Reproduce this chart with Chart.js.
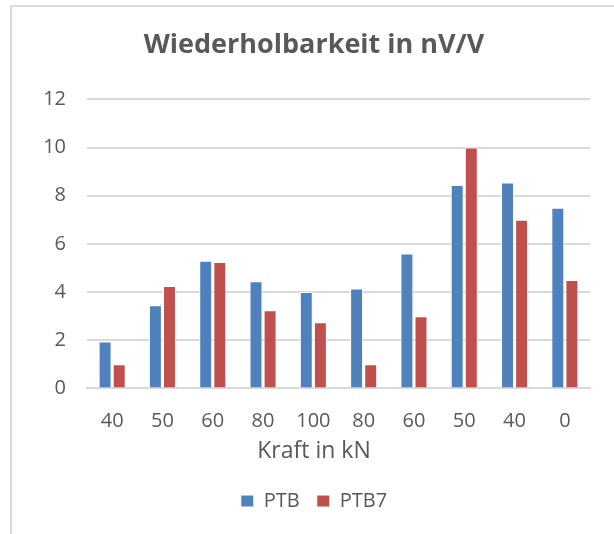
<!DOCTYPE html>
<html>
<head>
<meta charset="utf-8">
<script src="https://cdn.jsdelivr.net/npm/chart.js@4/dist/chart.umd.min.js"></script>
<style>
  html, body { margin: 0; padding: 0; background: #fff; }
  #frame { position: absolute; left: 10px; top: 5px; width: 700px; height: 600px; border: 2px solid #d9d9d9; }
  #wrap { position: absolute; left: 0; top: 0; width: 614px; height: 534px; }
</style>
</head>
<body>
<div id="frame"></div>
<div id="wrap"><canvas id="myChart"></canvas></div>
<script>
const kraft = ["40", "50", "60", "80", "100", "80", "60", "50", "40", "0"];
const ptb = [1.95, 3.45, 5.3, 4.45, 4.0, 4.15, 5.6, 8.45, 8.55, 7.5];
const ptb7 = [1.0, 4.25, 5.25, 3.25, 2.75, 1.0, 3.0, 10.0, 7.0, 4.5];
const yTicks = [0, 2, 4, 6, 8, 10, 12];

const textColor = "#595959";
const gridColor = "#d9d9d9";
const fontFamily = "'Open Sans', sans-serif";

const myChartElement = document.getElementById("myChart");

const options = {
    type: "bar",
    data: {
        labels: kraft,
        datasets: [{
            label: "PTB",
            data: ptb,
            backgroundColor: "#4F81BD",
            borderColor: "#ffffff",
            borderWidth: 1
        }, {
            label: "PTB7",
            data: ptb7,
            backgroundColor: "#C0504D",
            borderColor: "#ffffff",
            borderWidth: 1
        }]
    },
    options: {
        responsive: true,
        maintainAspectRatio: false,
        animation: false,
        categoryPercentage: 0.56,
        barPercentage: 0.92,
        layout: { padding: { left: 38, right: 24, top: 0, bottom: 13 } },
        plugins: {
            title: {
                display: true,
                text: "Wiederholbarkeit in nV/V",
                color: textColor,
                font: { family: fontFamily, size: 27, weight: "bold" },
                padding: { top: 29, bottom: 38 }
            },
            // axis title as a bottom subtitle so it is centred on the whole chart like the original
            subtitle: {
                display: true,
                position: "bottom",
                weight: 500,
                text: "Kraft in kN",
                color: textColor,
                font: { family: fontFamily, size: 23 },
                padding: { top: 6, bottom: 9 }
            },
            legend: {
                position: "bottom",
                labels: {
                    color: textColor,
                    font: { family: fontFamily, size: 20 },
                    boxWidth: 13,
                    boxHeight: 12,
                    padding: 17
                }
            },
            tooltip: { enabled: false }
        },
        scales: {
            y: {
                min: 0,
                max: 12,
                afterBuildTicks: (scale) => {
                    scale.ticks = yTicks.map(v => ({ value: v }));
                },
                afterFit: (scale) => { scale.width = 49; },
                border: { display: false },
                grid: { color: gridColor, lineWidth: 2, drawTicks: false },
                ticks: {
                    color: textColor,
                    font: { family: fontFamily, size: 20 },
                    padding: 21
                }
            },
            x: {
                afterFit: (scale) => { scale.height = 43; },
                border: { display: true, color: gridColor, width: 2 },
                grid: { display: false, drawTicks: false },
                ticks: {
                    color: textColor,
                    font: { family: fontFamily, size: 20 },
                    padding: 21
                }
            }
        }
    }
};
new Chart(myChartElement, options);
</script>
</body>
</html>
